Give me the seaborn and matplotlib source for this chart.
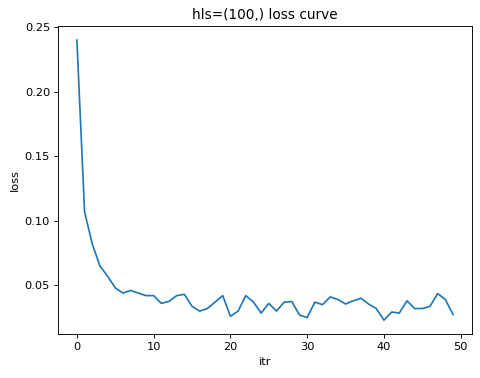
import numpy as np
import pandas as pd
import matplotlib
matplotlib.use('Agg')
import matplotlib.pyplot as plt
import seaborn as sns

# --- データ ---
ITERATIONS = list(range(50))
LOSS = [0.240, 0.107, 0.082, 0.065, 0.057, 0.048, 0.044, 0.046, 0.044, 0.042,
        0.042, 0.036, 0.0376, 0.042, 0.043, 0.0337, 0.030, 0.032, 0.037, 0.042,
        0.026, 0.030, 0.042, 0.037, 0.0285, 0.036, 0.030, 0.037, 0.0374, 0.027,
        0.025, 0.037, 0.035, 0.041, 0.039, 0.0355, 0.038, 0.040, 0.0355, 0.032,
        0.023, 0.0293, 0.0285, 0.038, 0.032, 0.032, 0.0337, 0.0436, 0.039, 0.0273]

TITLE = 'hls=(100,) loss curve'

# 出力サイズ (480x378 px)
DPI = 82
FIG_W, FIG_H = 480 / DPI, 378 / DPI


def plot_loss_curve():
    df = pd.DataFrame({'itr': ITERATIONS, 'loss': LOSS})

    fig, ax = plt.subplots(figsize=(FIG_W, FIG_H), dpi=DPI)
    fig.subplots_adjust(left=0.121, right=0.983, top=0.931, bottom=0.116)

    sns.lineplot(x='itr', y='loss', data=df, ax=ax, color='#1f77b4')

    ax.set_title(TITLE)
    ax.set_xlabel('itr')
    ax.set_ylabel('loss')

    fig.savefig('out.png', dpi=DPI)


if __name__ == '__main__':
    plot_loss_curve()
